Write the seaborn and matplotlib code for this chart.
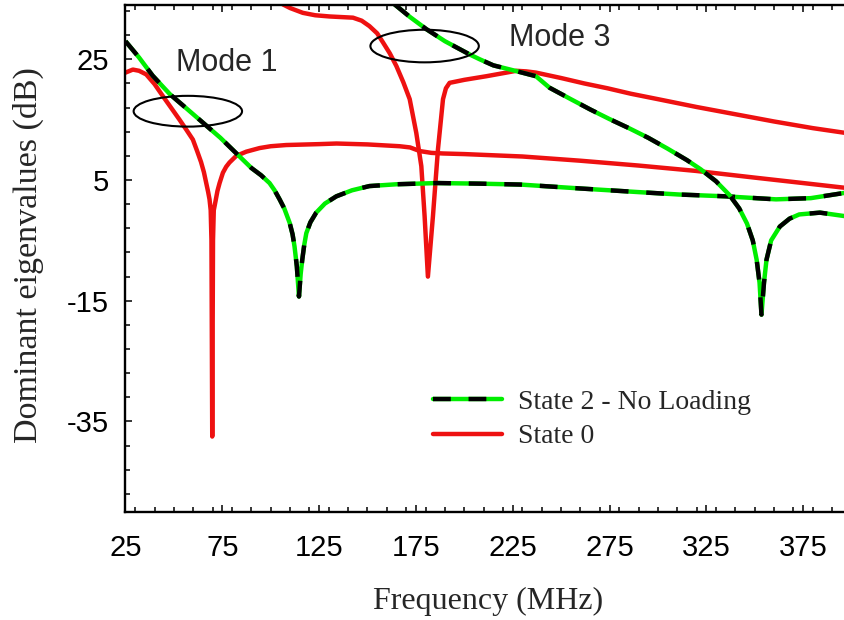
import numpy as np
import pandas as pd
import matplotlib
matplotlib.use("Agg")
import matplotlib.pyplot as plt
from matplotlib.patches import Ellipse
from matplotlib.lines import Line2D
from matplotlib.ticker import MultipleLocator
import seaborn as sns

# ---------------- data (frequency in MHz, eigenvalue in dB) ----------------
# State 2 - No Loading, lower (Mode 1) branch
s2_m1_freq = [25, 32, 39, 48, 56, 65, 74, 82, 90, 95, 99.4, 102, 104.6, 107, 109.8,
              111.3, 112.3, 113.5, 114.6, 115.5, 116.3, 117.3, 118.4, 120.5, 123.5,
              128, 133.9, 142, 151, 165, 186, 208, 229, 260, 290, 311, 335, 361,
              379, 397]
s2_m1_db = [28.0, 25.3, 22.3, 19.2, 17.0, 14.5, 12.0, 9.5, 7.0, 5.8, 4.5, 3.3, 1.8, 0.3,
            -2.1, -4.0, -6.0, -9.3, -14.3, -10.5, -8.2, -5.8, -3.8, -2.0, -0.4,
            1.1, 2.3, 3.3, 4.0, 4.3, 4.5, 4.4, 4.25, 3.6, 3.0, 2.6, 2.3, 1.8,
            2.0, 2.9]

# State 2 - No Loading, upper (Mode 3) branch
s2_m3_freq = [164, 172, 180.4, 190, 202.8, 208, 215, 225, 237, 244, 255, 265, 275,
              285, 295, 305, 315, 322, 330, 337, 342, 346, 349, 351, 352.5, 353.5,
              354.8, 356.1, 358.5, 363, 368, 373, 383.7, 397]
s2_m3_db = [34.1, 32.0, 30.0, 28.0, 25.8, 25.0, 24.0, 23.2, 22.2, 20.3, 18.4, 16.7, 15.1,
            13.6, 12.0, 10.2, 8.3, 6.8, 4.8, 2.5, 0.3, -2.2, -5.0, -8.2, -12.0, -17.3,
            -12.0, -8.2, -5.0, -2.7, -1.4, -0.7, -0.4, -1.0]

# State 0, lower (Mode 1) branch
s0_m1_freq = [25, 28.8, 32, 35.7, 40, 44.3, 48.5, 52.9, 56.5, 59.8, 62, 64, 65.5, 66.7,
              67.7, 68.4, 69.0, 69.4, 69.8, 70.2, 70.6, 71.5, 72.5, 73.6, 75.3, 77,
              78.7, 82.2, 87.4, 94.3, 100, 108, 125, 134, 150, 166.6, 172, 177, 183,
              189, 200, 230, 260, 290, 320, 350, 375, 397]
s0_m1_db = [22.8, 23.3, 23.1, 22.5, 20.9, 18.9, 17.0, 15.0, 13.3, 11.7, 9.8, 8.0, 6.3, 4.5,
            3.0, 1.8, 0.0, -5.0, -37.5, -5.0, 0.0, 1.5, 3.2, 4.5, 6.2, 7.2,
            7.9, 9.0, 9.7, 10.3, 10.6, 10.8, 10.95, 11.05, 10.9, 10.6, 10.4, 9.8, 9.5,
            9.4, 9.3, 8.9, 8.2, 7.4, 6.5, 5.4, 4.5, 3.7]

# State 0, upper (Mode 3) branch
s0_m3_freq = [106.3, 110, 116.6, 123, 130.4, 142.5, 147, 151, 155, 158, 161.5, 164.9,
              168.5, 171.8, 175.2, 177.8, 179.5, 181.2, 183.8, 185.2, 186.4, 189, 190.5,
              192.4, 200, 211.4, 226.9, 232, 237, 250, 262, 274, 286, 300, 320,
              340, 360, 380, 397]
s0_m3_db = [34.1, 33.5, 32.7, 32.3, 32.1, 31.9, 31.4, 30.5, 29.3, 27.8, 26.0, 23.9,
            21.2, 18.4, 12.8, 7.3, -1.0, -11.0, -1.0, 5.0, 10.1, 18.4, 20.2,
            21.1, 21.6, 22.2, 23.1, 23.0, 22.8, 21.9, 21.0, 20.2, 19.3, 18.4, 17.1,
            15.9, 14.7, 13.6, 12.8]

legend_labels = ["State 2 - No Loading", "State 0"]
mode_labels = ["Mode 1", "Mode 3"]
x_ticks = [25, 75, 125, 175, 225, 275, 325, 375]
y_ticks = [-35, -15, 5, 25]

# ---------------- style ----------------
sns.set_style("ticks")
plt.rcParams["font.family"] = ["Liberation Sans", "DejaVu Sans"]
plt.rcParams["axes.unicode_minus"] = False

GREEN = "#00ee00"
RED = "#ee1111"
LW = 3.2

fig = plt.figure(figsize=(8.45, 6.2), dpi=100)
ax = fig.add_axes([125.5 / 845, 108 / 620, 726 / 845, 507 / 620])


def dashed_pair(freq, db):
    df = pd.DataFrame({"f": freq, "db": db})
    sns.lineplot(data=df, x="f", y="db", ax=ax, color=GREEN, lw=LW,
                 sort=False, estimator=None, solid_capstyle="butt",
                 solid_joinstyle="round")
    sns.lineplot(data=df, x="f", y="db", ax=ax, color="black", lw=LW,
                 sort=False, estimator=None, linestyle=(0, (4, 4)),
                 dash_capstyle="butt", dash_joinstyle="round")


def solid_red(freq, db):
    df = pd.DataFrame({"f": freq, "db": db})
    sns.lineplot(data=df, x="f", y="db", ax=ax, color=RED, lw=LW,
                 sort=False, estimator=None, solid_capstyle="round",
                 solid_joinstyle="round")


solid_red(s0_m1_freq, s0_m1_db)
solid_red(s0_m3_freq, s0_m3_db)
dashed_pair(s2_m1_freq, s2_m1_db)
dashed_pair(s2_m3_freq, s2_m3_db)

# mode markers
ax.add_patch(Ellipse((57.2, 16.4), 56, 5.1, fill=False, ec="black", lw=1.5, zorder=5))
ax.add_patch(Ellipse((179.5, 27.2), 56, 5.4, fill=False, ec="black", lw=1.5, zorder=5))
ax.text(77.5, 23.0, mode_labels[0], fontsize=22, ha="center", va="baseline")
ax.text(249.3, 27.2, mode_labels[1], fontsize=22, ha="center", va="baseline")

ax.set_xlim(25, 400)
ax.set_ylim(-50, 34)
ax.set_xticks(x_ticks)
ax.xaxis.set_minor_locator(MultipleLocator(10))
ax.set_yticks(y_ticks)
ax.set_yticks(np.arange(-47, 34, 4), minor=True)

ax.tick_params(which="both", direction="in", top=True, right=True,
               colors="black", width=1.1, labelsize=21)
ax.tick_params(which="major", length=5)
ax.tick_params(which="minor", length=3.5)
ax.tick_params(axis="x", pad=16)
ax.tick_params(axis="y", pad=12)
for s in ax.spines.values():
    s.set_linewidth(1.7)
    s.set_color("black")

serif = ["Liberation Serif", "DejaVu Serif"]
ax.set_xlabel("Frequency (MHz)", fontsize=23, family=serif)
ax.set_ylabel("Dominant eigenvalues (dB)", fontsize=24.5, family=serif)
ax.xaxis.set_label_coords(0.5, -0.148)
ax.yaxis.set_label_coords(-0.112, 0.507)

h_dash = (Line2D([], [], color=GREEN, lw=LW),
          Line2D([], [], color="black", lw=LW, linestyle=(0, (4, 4))))
h_red = Line2D([], [], color=RED, lw=LW)
ax.legend([h_dash, h_red], legend_labels, loc="center left",
          bbox_to_anchor=(433 / 845, 200.5 / 620), bbox_transform=fig.transFigure,
          frameon=False, prop={"family": serif, "size": 20},
          handlelength=2.5, handletextpad=0.55, labelspacing=0.32,
          borderpad=0, borderaxespad=0)

fig.savefig("out.png", dpi=100, facecolor="white")
